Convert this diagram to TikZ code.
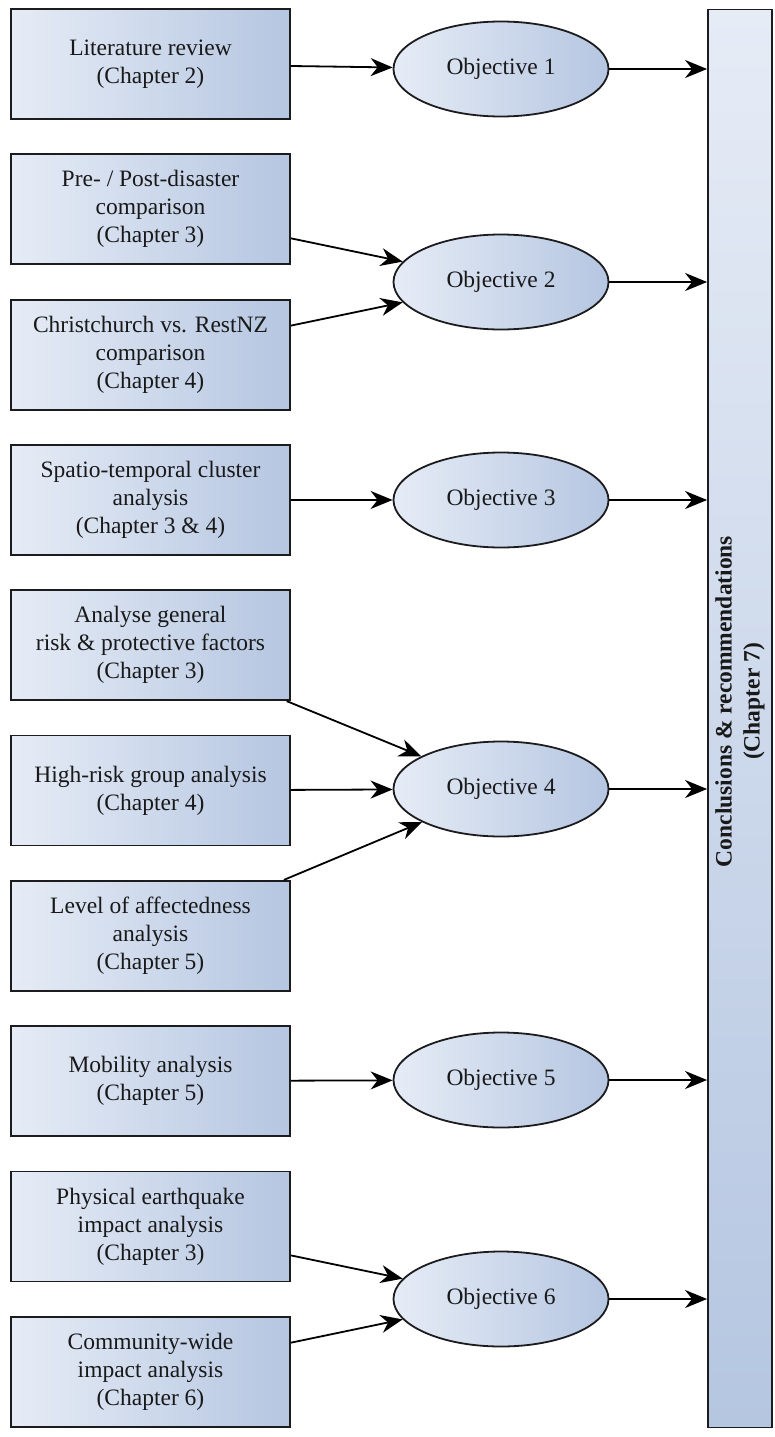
\documentclass[tikz,border=0pt]{standalone}
\usepackage{fontspec}
\setmainfont{Liberation Serif}
\usetikzlibrary{positioning, shapes.geometric, arrows.meta}

\definecolor{fillL}{RGB}{230,236,246}
\definecolor{fillR}{RGB}{181,198,225}
\definecolor{edgeC}{RGB}{28,28,30}
\definecolor{inkC}{RGB}{25,25,25}

\tikzset{
    chapbox/.style={draw=edgeC, line width=1.8pt, left color=fillL, right color=fillR,
        minimum width=279pt, minimum height=110pt, align=center, inner sep=2pt,
        text=inkC, font=\fontsize{23.5}{28}\selectfont},
    objell/.style={ellipse, draw=edgeC, line width=1.8pt, left color=fillL, right color=fillR,
        minimum width=215pt, minimum height=95pt, inner sep=1pt,
        text=inkC, font=\fontsize{23.5}{28}\selectfont},
    flow/.style={line width=1.8pt, draw=black,
        -{Stealth[length=22pt, width=18pt, inset=7pt]}},
}

\begin{document}
\begin{tikzpicture}[x=1pt, y=-1pt]
    \useasboundingbox (0,0) rectangle (775,1437);

    % method boxes, left column
    \node[chapbox] (lit) at (150.5,64) {Literature review\\(Chapter 2)};
    \node[chapbox, below=33.5pt of lit] (prepost) {Pre- / Post-disaster\\comparison\\(Chapter 3)};
    \node[chapbox, below=33.5pt of prepost] (chch) {Christchurch vs. RestNZ\\comparison\\(Chapter 4)};
    \node[chapbox, below=33.5pt of chch] (cluster) {Spatio-temporal cluster\\analysis\\(Chapter 3 \& 4)};
    \node[chapbox, below=33.5pt of cluster] (riskf) {Analyse general\\risk \& protective factors\\(Chapter 3)};
    \node[chapbox, below=33.5pt of riskf] (highrisk) {High-risk group analysis\\(Chapter 4)};
    \node[chapbox, below=33.5pt of highrisk] (affect) {Level of affectedness\\analysis\\(Chapter 5)};
    \node[chapbox, below=33.5pt of affect] (mobil) {Mobility analysis\\(Chapter 5)};
    \node[chapbox, below=33.5pt of mobil] (quake) {Physical earthquake\\impact analysis\\(Chapter 3)};
    \node[chapbox, below=33.5pt of quake] (commun) {Community-wide\\impact analysis\\(Chapter 6)};

    % objectives
    \node[objell] (obj1) at (501,69) {Objective 1};
    \node[objell] (obj2) at (501,282) {Objective 2};
    \node[objell] (obj3) at (501,500) {Objective 3};
    \node[objell] (obj4) at (501,789) {Objective 4};
    \node[objell] (obj5) at (501,1080) {Objective 5};
    \node[objell] (obj6) at (501,1299) {Objective 6};

    % conclusions bar
    \node[draw=edgeC, line width=1.8pt, top color=fillL, bottom color=fillR,
        minimum width=64pt, minimum height=1418pt] (concl) at (740,718.5) {};
    \node[rotate=90, align=center, text=inkC, font=\fontsize{23.5}{28}\selectfont\bfseries]
        (concltxt) at ([yshift=17pt]concl.center) {Conclusions \& recommendations\\(Chapter 7)};

    \draw[flow] (lit) -- (obj1);
    \draw[flow] (prepost) -- (obj2);
    \draw[flow] (chch) -- (obj2);
    \draw[flow] (cluster) -- (obj3);
    \draw[flow] (riskf) -- (obj4);
    \draw[flow] (highrisk) -- (obj4);
    \draw[flow] (affect) -- (obj4);
    \draw[flow] (mobil) -- (obj5);
    \draw[flow] (quake) -- (obj6);
    \draw[flow] (commun) -- (obj6);

    \foreach \o in {obj1, obj2, obj3, obj4, obj5, obj6}
        \draw[flow] (\o) -- (\o -| concl.west);
\end{tikzpicture}
\end{document}
